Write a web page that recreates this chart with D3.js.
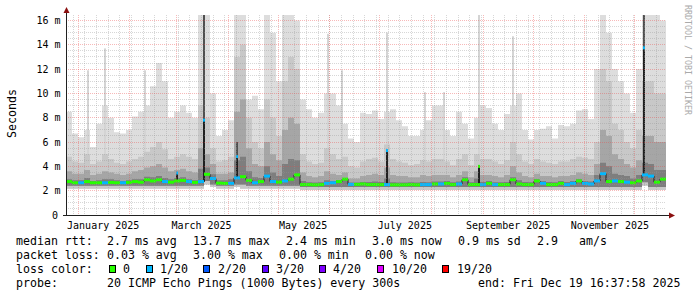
<!DOCTYPE html>
<html><head><meta charset="utf-8">
<script src="https://cdn.jsdelivr.net/npm/d3@7"></script>
<style>
html,body{margin:0;padding:0;background:#fff;}
svg{display:block;}
text{font-family:"DejaVu Sans Mono",monospace;fill:#000;}
</style></head><body>
<svg id="chart" width="697" height="297"></svg>
<script>
// ---- time frame ----
const endTime = new Date(Date.UTC(2025, 11, 19, 16, 37, 58));
const spanDays = 360;
const bucketDays = 3.6;

// ---- data (ms), one value per 3.6-day bucket ----
const median = [2.75,2.65,2.65,2.75,2.65,2.65,2.65,2.68,2.65,2.65,2.68,2.75,2.7,2.9,2.8,2.9,2.75,2.7,2.8,2.85,2.75,2.68,2.75,3.35,3.0,
2.62,2.6,2.6,3.05,3.15,2.85,2.65,2.75,3.2,2.75,2.7,2.8,2.95,3.3,2.5,2.5,2.48,2.5,2.6,2.65,2.75,2.95,2.52,2.52,2.55,
2.5,2.5,2.5,2.5,2.48,2.48,2.48,2.5,2.48,2.5,2.5,2.55,2.55,2.6,2.5,2.55,2.9,2.5,2.5,2.5,2.6,2.5,2.5,2.5,2.9,
2.55,2.5,2.5,2.8,2.6,2.5,2.5,2.6,2.5,2.6,2.8,2.6,2.55,2.8,3.4,2.75,2.8,2.75,2.7,2.65,2.8,3.3,3.2,2.7,2.95];
const lostPings = [0,0,1,0,0,0,1,0,0,1,0,0,0,0,0,0,1,0,0,0,1,0,1,0,1,
0,0,1,1,0,0,1,0,1,1,0,1,0,0,0,0,0,0,1,1,0,0,1,0,0,
0,0,0,1,0,0,0,0,0,1,1,0,1,0,0,1,0,0,0,1,0,1,0,0,0,
0,0,0,0,1,0,0,0,1,1,0,1,1,1,1,0,1,0,1,0,0,1,1,0,0];
const smokeMax = [8.5,6.7,6.4,7.0,5.6,7.5,9.0,8.0,6.8,6.7,7.0,8.1,8.5,9.0,10.6,12.5,11.0,8.0,8.5,9.0,8.4,8.0,16.5,16.5,10.0,
6.5,7.0,7.8,16.5,16.5,9.5,9.8,8.7,16.5,15.0,11.0,16.5,16.5,16.0,9.5,8.7,8.0,8.4,10.0,10.0,9.0,7.5,6.3,6.0,8.4,
8.3,8.6,7.9,8.5,8.7,7.8,7.3,6.5,6.5,7.0,7.8,9.0,9.0,7.0,6.5,8.5,7.5,6.3,8.0,9.0,8.8,7.5,7.0,8.3,9.0,
10.0,7.0,6.2,7.0,7.1,7.3,6.3,7.4,7.3,7.5,8.6,8.7,7.9,12.0,16.5,15.0,12.0,11.0,10.0,8.4,12.0,16.5,16.5,16.5,16.0];
const smokeHigh = [4.8,4.4,4.3,5.0,4.2,4.4,5.0,4.6,4.3,4.2,4.4,4.6,4.8,5.2,5.6,6.0,5.4,4.6,4.8,5.0,4.8,4.6,9.0,8.0,5.5,
4.4,4.5,4.8,13.0,14.0,8.0,6.0,5.5,9.5,8.0,6.5,11.0,13.0,12.0,5.0,4.4,4.2,4.3,5.5,5.0,4.6,4.8,4.0,3.9,4.4,
4.6,4.7,4.4,5.8,4.6,4.4,4.3,4.1,4.2,4.5,4.4,4.6,4.6,4.4,4.1,4.6,5.0,4.1,5.0,4.6,4.6,4.4,4.2,4.5,6.0,
5.0,4.4,4.2,4.6,4.4,4.3,4.2,4.4,4.4,4.6,4.8,4.7,4.6,6.0,12.0,11.0,7.5,7.0,6.0,5.5,7.0,11.0,11.0,10.0,10.0];
const smokeMid = [3.6,3.4,3.4,3.7,3.3,3.4,3.6,3.5,3.4,3.3,3.4,3.6,3.7,3.9,4.0,4.2,3.9,3.6,3.7,3.8,3.6,3.5,5.5,5.0,4.2,
3.4,3.4,3.5,8.5,9.5,5.5,4.2,4.0,6.0,5.0,4.5,7.0,8.0,7.5,3.5,3.2,3.1,3.2,3.6,3.4,3.3,3.5,3.0,3.0,3.2,
3.3,3.4,3.3,3.9,3.3,3.2,3.2,3.1,3.1,3.3,3.2,3.3,3.3,3.3,3.1,3.3,3.6,3.1,3.6,3.3,3.3,3.2,3.1,3.3,4.0,
3.5,3.2,3.1,3.4,3.2,3.2,3.1,3.2,3.2,3.3,3.5,3.4,3.3,4.2,7.0,6.5,5.0,4.6,4.2,3.9,4.5,6.5,6.5,6.0,6.0];
const smokeLow = [2.95,2.85,2.85,3.05,2.8,2.85,2.95,2.95,2.85,2.8,2.85,2.95,2.95,3.15,3.1,3.2,3.05,2.95,3.05,3.1,2.95,2.85,3.8,3.9,3.35,
2.85,2.85,2.95,4.5,4.8,3.6,3.1,3.05,4.0,3.5,3.2,4.2,4.6,4.5,2.8,2.7,2.68,2.7,2.85,2.8,2.85,3.0,2.68,2.68,2.72,
2.72,2.75,2.72,3.0,2.7,2.68,2.68,2.7,2.68,2.72,2.7,2.75,2.75,2.8,2.7,2.75,3.1,2.7,3.0,2.72,2.8,2.7,2.7,2.72,3.1,
2.85,2.72,2.7,2.95,2.8,2.72,2.7,2.8,2.72,2.8,2.95,2.8,2.75,3.3,4.3,4.0,3.4,3.3,3.2,3.0,3.3,4.3,4.2,3.7,3.7];
const pingMin = [2.15,2.15,2.15,2.15,2.15,2.15,2.15,2.15,2.15,2.15,2.15,2.15,2.15,2.15,2.15,2.15,2.15,2.15,2.15,2.15,2.15,2.15,2.15,2.5,2.3,
2.15,2.15,2.15,2.3,2.15,2.15,2.15,2.15,2.15,2.15,2.15,2.15,2.15,2.15,2.05,2.05,2.05,2.05,2.05,2.05,2.05,2.05,2.05,2.05,2.05,
2.05,2.05,2.05,2.05,2.05,2.05,2.05,2.05,2.05,2.05,2.05,2.05,2.05,2.05,2.05,2.05,2.05,2.05,2.05,2.05,2.05,2.05,2.05,2.05,2.05,
2.05,2.05,2.05,2.05,2.05,2.05,2.05,2.05,2.05,2.05,2.05,2.05,2.05,2.05,2.05,2.05,2.05,2.05,2.05,2.05,2.05,2.4,2.05,2.05,2.05];
const pingLow = [2.4,2.4,2.4,2.4,2.4,2.4,2.4,2.4,2.4,2.4,2.4,2.4,2.4,2.4,2.4,2.4,2.4,2.4,2.4,2.4,2.4,2.4,2.4,2.8,2.5,
2.4,2.4,2.4,2.5,2.5,2.4,2.4,2.4,2.4,2.4,2.4,2.4,2.4,2.4,2.3,2.3,2.3,2.3,2.3,2.3,2.3,2.3,2.3,2.3,2.3,
2.3,2.3,2.3,2.3,2.3,2.3,2.3,2.3,2.3,2.3,2.3,2.3,2.3,2.3,2.3,2.3,2.3,2.3,2.3,2.3,2.3,2.3,2.3,2.3,2.3,
2.3,2.3,2.3,2.3,2.3,2.3,2.3,2.3,2.3,2.3,2.3,2.3,2.3,2.3,2.3,2.3,2.3,2.3,2.3,2.3,2.3,2.7,2.3,2.3,2.3];

// short median excursions
const spikeDates = ["2025-03-01T07:00Z","2025-03-17T07:00Z","2025-04-06T12:00Z","2025-07-05T14:00Z","2025-08-29T12:00Z","2025-12-06T16:00Z"];
const spikeValues = [3.45, 7.8, 4.8, 5.3, 4.0, 13.75];
const spikeLost = [1, 1, 1, 1, 0, 1];
const spikeSmoke = [3.45, 16.5, 6.0, 5.3, 4.0, 16.5];
// thin light smoke needles
const needleDates = ["2025-01-06T21:00Z","2025-01-17T06:30Z","2025-02-10T06:30Z","2025-05-30T16:00Z","2025-06-08T07:00Z","2025-07-05T14:00Z","2025-07-28T06:00Z","2025-08-08T16:00Z","2025-08-29T12:00Z","2025-09-18T16:00Z"];
const needleTops = [11.9, 13.7, 11.9, 14.9, 11.9, 15.0, 10.1, 10.1, 16.5, 14.7];

const yTicks = [0, 2, 4, 6, 8, 10, 12, 14, 16];
const labelMonths = ["2025-01-01","2025-03-01","2025-05-01","2025-07-01","2025-09-01","2025-11-01"];
const monthNames = ["January 2025","March 2025","May 2025","July 2025","September 2025","November 2025"];
const lossLabels = ["0","1/20","2/20","3/20","4/20","10/20","19/20"];
const lossThresh = [0, 1, 2, 3, 4, 10, 19];
const lossColors = ["#26ff00","#00b8ff","#0059ff","#5e00ff","#7e00ff","#dd00ff","#ff0000"];
const legendRows = [
  [[16,"median rtt:"],[107,"2.7 ms avg"],[193,"13.7 ms max"],[286,"2.4 ms min"],[372,"3.0 ms now"],[458,"0.9 ms sd"],[537,"2.9"],[579,"am/s"]],
  [[16,"packet loss:"],[107,"0.03 % avg"],[193,"3.00 % max"],[279,"0.00 % min"],[365,"0.00 % now"]],
  [[16,"loss color:"]],
  [[16,"probe:"],[107,"20 ICMP Echo Pings (1000 Bytes) every 300s"],[478,"end: Fri Dec 19 16:37:58 2025"]]
];
const lossBoxX = [109, 146, 203, 262, 319, 377, 442];
const lossTextX = [123, 160, 218, 276, 333, 392, 457];

// ---- scales ----
const start = new Date(endTime.getTime() - spanDays * 864e5);
const X0 = 66, X1 = 666, Y0 = 215, Y1 = 15;
const x = d3.scaleUtc().domain([start, endTime]).range([X0, X1]);
const y = d3.scaleLinear().domain([0, 16.45]).range([Y0, Y1]).clamp(true);
const bucketMs = bucketDays * 864e5;
const nB = median.length;
const tB = d3.range(nB + 1).map(k => new Date(start.getTime() + k * bucketMs));
const lossColor = n => { let i = 0; lossThresh.forEach((t, j) => { if (n >= t) i = j; }); return lossColors[i]; };

const svg = d3.select("#chart");
svg.append("defs").append("clipPath").attr("id", "plot")
  .append("rect").attr("x", X0).attr("y", Y1).attr("width", X1 - X0).attr("height", Y0 - Y1);
const g = svg.append("g").attr("clip-path", "url(#plot)");

function layer(lo, hi, color) {
  const pts = d3.range(nB).map(k => ({t: tB[k], lo: lo[k], hi: hi[k]}));
  pts.push({t: tB[nB], lo: lo[nB - 1], hi: hi[nB - 1]});
  const area = d3.area().curve(d3.curveStepAfter).x(d => x(d.t)).y0(d => y(d.lo)).y1(d => y(d.hi));
  g.append("path").attr("d", area(pts)).attr("fill", color);
}
layer(pingMin, smokeMax, "#dddddd");
needleDates.forEach((d, i) => {
  const t = new Date(d), k = Math.floor((t - start) / bucketMs);
  g.append("rect").attr("x", Math.round(x(t)) - 1).attr("width", 2)
    .attr("y", y(needleTops[i])).attr("height", y(pingMin[k]) - y(needleTops[i])).attr("fill", "#d4d4d4");
});
layer(pingMin, smokeHigh, "#c8c8c8");
layer(pingLow, smokeMid, "#a6a6a6");
layer(pingLow, smokeLow, "#7e7e7e");
spikeDates.forEach((d, i) => {
  const t = new Date(d), k = Math.floor((t - start) / bucketMs);
  const xs = Math.round(x(t));
  g.append("rect").attr("x", xs - 1).attr("width", 2)
    .attr("y", y(spikeSmoke[i])).attr("height", y(median[k]) - y(spikeSmoke[i])).attr("fill", "#505050");
});

// ---- grid (dotted, on top of smoke) ----
const grid = svg.append("g").attr("fill", "none").attr("shape-rendering", "crispEdges");
const minorY = d3.range(0.5, 16.4, 0.5).filter(v => v % 2 !== 0);
const majorY = yTicks.filter(v => v > 0);
const weeks = d3.utcSunday.range(start, endTime);
const months = d3.utcMonth.range(d3.utcDay.ceil(start), endTime);
const minorC = "rgba(150,150,150,0.38)", majorC = "rgba(235,70,70,0.38)";
function gline(x1, x2, y1, y2, c) {
  grid.append("line").attr("x1", x1).attr("x2", x2).attr("y1", y1).attr("y2", y2)
    .attr("stroke", c).attr("stroke-dasharray", "1,1");
}
weeks.forEach(t => { const xx = Math.floor(x(t)) + 0.5; gline(xx, xx, Y1, Y0, minorC); });
minorY.forEach(v => { const yy = Math.floor(y(v)) + 0.5; gline(X0, X1, yy, yy, minorC); });
months.forEach(t => { const xx = Math.floor(x(t)) + 0.5; gline(xx, xx, Y1, Y0, majorC); });
majorY.forEach(v => { const yy = Math.floor(y(v)) + 0.5; gline(X0, X1, yy, yy, majorC); });

// ---- median line and loss colours ----
const mpts = d3.range(nB).map(k => ({t: tB[k], v: median[k]}));
mpts.push({t: tB[nB], v: median[nB - 1]});
g.append("path").attr("d", d3.line().curve(d3.curveStepAfter).x(d => x(d.t)).y(d => y(d.v))(mpts))
  .attr("fill", "none").attr("stroke", "#202020").attr("stroke-width", 1);
spikeDates.forEach((d, i) => {
  const t = new Date(d), k = Math.floor((t - start) / bucketMs);
  const xs = Math.round(x(t));
  g.append("rect").attr("x", xs - 1).attr("width", 2).attr("y", y(spikeValues[i]))
    .attr("height", y(median[k]) - y(spikeValues[i])).attr("fill", "#202020");
});
d3.range(nB).forEach(k => {
  g.append("rect").attr("x", x(tB[k])).attr("width", x(tB[k + 1]) - x(tB[k]))
    .attr("y", y(median[k]) - 1.5).attr("height", 3).attr("fill", lossColor(lostPings[k]));
});
spikeDates.forEach((d, i) => {
  const t = new Date(d);
  const xs = Math.round(x(t));
  g.append("rect").attr("x", xs - 1).attr("width", 2).attr("y", y(spikeValues[i]) - 1.5)
    .attr("height", 3).attr("fill", lossColor(spikeLost[i]));
});

// ---- axes ----
svg.append("line").attr("x1", X0 + 0.5).attr("x2", X0 + 0.5).attr("y1", Y0 + 1).attr("y2", 11)
  .attr("stroke", "#202020");
svg.append("line").attr("x1", X0 - 3).attr("x2", 670).attr("y1", Y0 + 0.5).attr("y2", Y0 + 0.5)
  .attr("stroke", "#202020");
svg.append("path").attr("d", `M${X0 - 2.5},13 L${X0 + 3.5},13 L${X0 + 0.5},7 Z`).attr("fill", "#8b1010");
svg.append("path").attr("d", `M669,212.5 L669,218.5 L675,215.5 Z`).attr("fill", "#8b1010");

yTicks.forEach(v => {
  svg.append("text").attr("x", v === 0 ? 58 : 60.5).attr("y", y(v) + 3.7)
    .attr("text-anchor", "end").attr("font-size", "10px")
    .text(v === 0 ? "0" : v + " m");
});
labelMonths.forEach((m, i) => {
  const t = d3.utcDay.offset(new Date(m + "T00:00Z"), 15);
  svg.append("text").attr("x", x(t)).attr("y", 228.5).attr("text-anchor", "middle")
    .attr("font-size", "10px").text(monthNames[i]);
});
svg.append("text").attr("transform", "translate(15.5,113.5) rotate(-90)")
  .attr("text-anchor", "middle").attr("font-size", "11.6px").text("Seconds");
svg.append("text").attr("transform", "translate(684.5,5) rotate(90)")
  .attr("font-size", "8.3px").style("fill", "#aaaaaa").text("RRDTOOL / TOBI OETIKER");

// ---- legend ----
legendRows.forEach((row, r) => {
  row.forEach(([lx, s]) => {
    svg.append("text").attr("x", lx).attr("y", 245 + 14 * r).attr("font-size", "11.6px")
      .attr("xml:space", "preserve").text(s);
  });
});
lossLabels.forEach((s, i) => {
  svg.append("rect").attr("x", lossBoxX[i] + 0.5).attr("y", 265.5).attr("width", 6).attr("height", 7)
    .attr("fill", lossColors[i]).attr("stroke", "#000").attr("stroke-width", 1);
  svg.append("text").attr("x", lossTextX[i]).attr("y", 273).attr("font-size", "11.6px").text(s);
});
</script>
</body></html>
